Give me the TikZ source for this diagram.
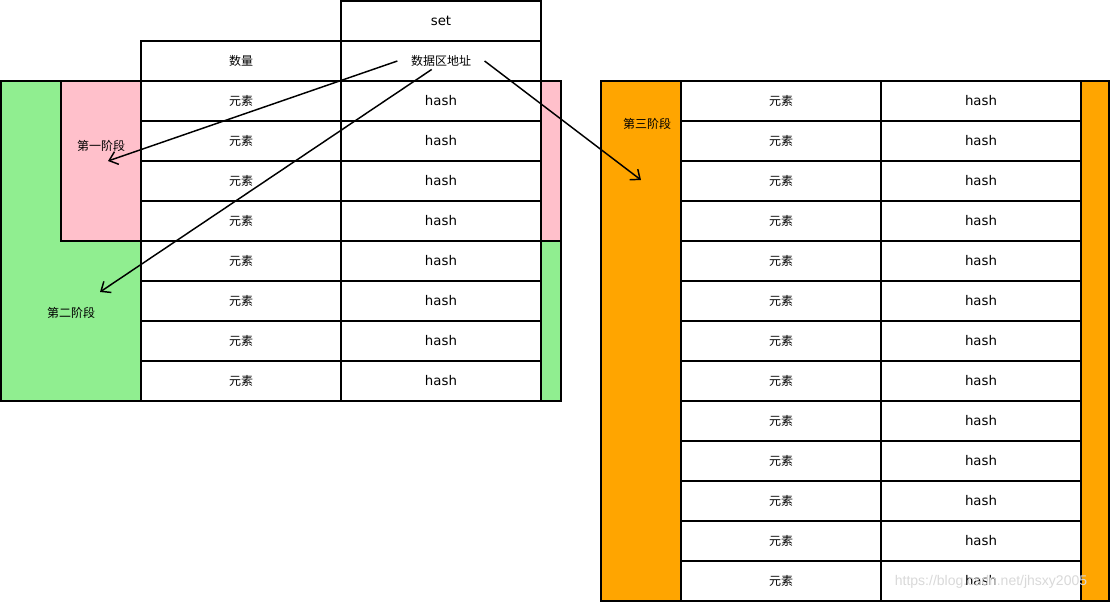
\documentclass[tikz,border=0pt]{standalone}
\usepackage{fontspec}
\setmainfont{DejaVu Sans}
\newfontfamily\cjk{Noto Sans CJK SC}
\newfontfamily\markfont{Liberation Sans}
\usetikzlibrary{arrows.meta}
\definecolor{stgreen}{HTML}{90EE90}
\definecolor{stpink}{HTML}{FFC0CB}
\definecolor{storange}{HTML}{FFA500}
\begin{document}
\begin{tikzpicture}[
        x=0.75pt, y=-0.75pt,
        cell/.style={draw, fill=white, line width=1.5pt, minimum width=150pt, minimum height=30pt, inner sep=0pt, font=\fontsize{10}{12}\selectfont},
        zh/.style={font=\cjk\fontsize{9}{11}\selectfont},
        band/.style={draw, line width=1.5pt},
        link/.style={-{Straight Barb[length=6pt, width=10pt]}, line width=1.1pt},
    ]
    \useasboundingbox (0,0) rectangle (1110,602);
    % left set: stage one and two
    \draw[band, fill=stgreen] (1,81) rectangle (561,401);
    \draw[band, fill=stpink] (61,81) rectangle (141,241);
    \draw[band, fill=stpink] (541,81) rectangle (561,241);
    \node[cell] (set) at (441,21) {set};
    \node[cell, zh] (count) at (241,61) {数量};
    \node[cell] (addr) at (441,61) {};
    \node[zh, inner xsep=10pt, inner ysep=2pt] (addrtxt) at (addr) {数据区地址};
    \foreach \i in {1,...,8}{
        \node[cell, zh] (le\i) at (241,61+40*\i) {元素};
        \node[cell] (lh\i) at (441,61+40*\i) {\raisebox{1pt}{hash}};
    }
    \node[zh] (st1) at (101,146) {第一阶段};
    \node[zh] (st2) at (71,313) {第二阶段};
    % right set: stage three
    \draw[band, fill=storange] (601,81) rectangle (1109,601);
    \foreach \i in {1,...,13}{
        \node[cell, zh] (re\i) at (781,61+40*\i) {元素};
        \node[cell] (rh\i) at (981,61+40*\i) {\raisebox{1pt}{hash}};
    }
    \node[zh] (st3) at (647,124) {第三阶段};
    % pointers
    \coordinate (p1) at (108,161);
    \coordinate (p2) at (100,292);
    \coordinate (p3) at (641,180);
    \draw[link] (addrtxt.west) -- (p1);
    \draw[link] ([xshift=-7pt]addrtxt.south) -- (p2);
    \draw[link] (addrtxt.east) -- (p3);
    \node[text=gray!30, font=\markfont\fontsize{10.5}{12}\selectfont] (mark) at (991,582) {https://blog.csdn.net/jhsxy2005};
\end{tikzpicture}
\end{document}
